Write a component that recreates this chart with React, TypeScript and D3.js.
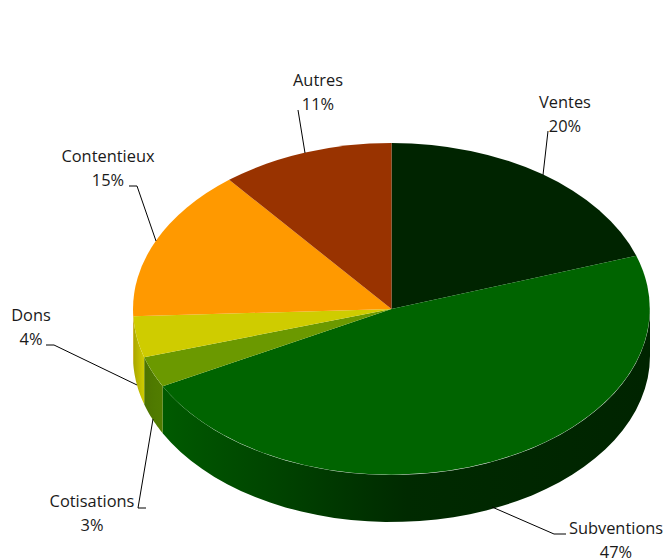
import * as d3 from 'd3';

const W = 667;
const H = 560;

const categories = ['Ventes', 'Subventions', 'Cotisations', 'Dons', 'Contentieux', 'Autres'];
const values = [19.8, 47.5, 3, 4, 14.9, 10.8];
const percentLabels = ['20%', '47%', '3%', '4%', '15%', '11%'];
const topColors = ['#002400', '#006400', '#6b9900', '#cfcc00', '#ff9900', '#993300'];
const wallStops = [
  ['#002400', '#002400', '#002400'],
  ['#005a00', '#002a00', '#002400'],
  ['#4d7300', '#4f7a00', '#527d00'],
  ['#a8a600', '#bcb900', '#cfcc00'],
  ['#ff9900', '#ff9900', '#ff9900'],
  ['#993300', '#993300', '#993300'],
];
const stopOffsets = [0, 0.5, 1];
// label position (centre of the first text row) and leader line bends
const labelX = [565, 616, 92, 31, 108, 318];
const labelY = [102, 528, 501, 315, 156, 80];
const leaders: [number, number][][] = [
  [[548, 131], [543, 175]],
  [[566, 534], [554, 534], [492, 507]],
  [[146, 508], [138, 508], [153, 419]],
  [[46, 345], [54, 345], [137, 385]],
  [[129, 186], [137, 186], [156, 241]],
  [[298, 110], [305, 153]],
];

const cx = 391.5;
const cy = 309;
const rx = 258.5;
const ry = 166;
const depth = 47;

const fmt = (p: [number, number]) => p.join(',');

export default function App() {
  const pie = d3.pie<number>().sort(null)(values);
  const arc = d3.arc<d3.PieArcDatum<number>>().innerRadius(0).outerRadius(1);
  const px = (a: number) => cx + rx * Math.sin(a);
  const py = (a: number) => cy - ry * Math.cos(a);

  // the wall only shows between 90deg and 270deg of the pie
  const walls = pie
    .map((d, i) => {
      const a0 = Math.max(d.startAngle, Math.PI / 2);
      const a1 = Math.min(d.endAngle, (3 * Math.PI) / 2);
      if (a1 <= a0) return null;
      const angles = d3.range(0, 41).map((k) => a0 + ((a1 - a0) * k) / 40);
      const top = angles.map((a) => [px(a), py(a)] as [number, number]);
      const bottom = angles.map((a) => [px(a), py(a) + depth] as [number, number]).reverse();
      return { i, path: d3.line()([...top, ...bottom])! + 'Z', x0: Math.min(px(a0), px(a1)), x1: Math.max(px(a0), px(a1)) };
    })
    .filter((w) => w !== null);

  return (
    <svg
      width={W}
      height={H}
      style={{ position: 'absolute', left: 0, top: 0, fontFamily: '"Open Sans", sans-serif' }}
    >
      <defs>
        {walls.map((w) => (
          <linearGradient key={w.i} id={`wall-${w.i}`} gradientUnits="userSpaceOnUse" x1={w.x0} x2={w.x1} y1={0} y2={0}>
            {stopOffsets.map((o, k) => (
              <stop key={k} offset={o} stopColor={wallStops[w.i][k]} />
            ))}
          </linearGradient>
        ))}
      </defs>
      {walls.map((w) => (
        <path key={w.i} d={w.path} fill={`url(#wall-${w.i})`} />
      ))}
      <g transform={`translate(${cx},${cy}) scale(${rx},${ry})`}>
        {pie.map((d, i) => (
          <path key={i} d={arc(d)!} fill={topColors[i]} />
        ))}
      </g>
      {leaders.map((pts, i) => (
        <polyline key={i} points={pts.map(fmt).join(' ')} fill="none" stroke="#000" strokeWidth={1} />
      ))}
      {categories.map((c, i) => (
        <text key={c} x={labelX[i]} y={labelY[i]} textAnchor="middle" fontSize={16.4} fill="#1a1a1a">
          <tspan x={labelX[i]} dy="0.35em">{c}</tspan>
          <tspan x={labelX[i]} dy={24.5}>{percentLabels[i]}</tspan>
        </text>
      ))}
    </svg>
  );
}
